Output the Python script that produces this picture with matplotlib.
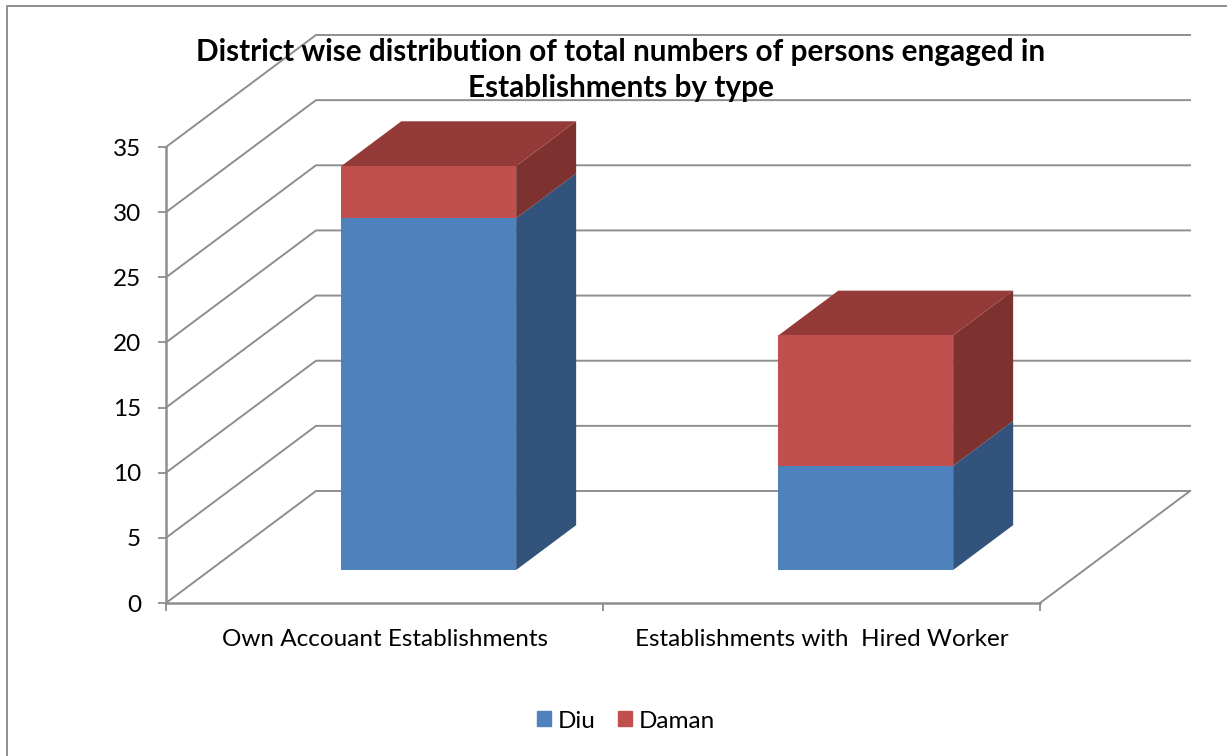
import matplotlib
matplotlib.use("Agg")
import matplotlib.pyplot as plt
from matplotlib.lines import Line2D
from matplotlib.patches import Patch

plt.rcParams['font.family'] = ['Lato', 'DejaVu Sans']

# ---- data ----
categories = ["Own Accouant Establishments", "Establishments with  Hired Worker"]
diu = [27, 8]
daman = [4, 10]
series_names = ["Diu", "Daman"]
y_ticks = [0, 5, 10, 15, 20, 25, 30, 35]
title = "District wise distribution of total numbers of persons engaged in\nEstablishments by type"

# ---- style ----
W, H = 1227, 756
GRID = "#8e8e8e"
BLUE, BLUE_SIDE = "#4f81bd", "#31537c"
RED, RED_SIDE, RED_TOP = "#c0504d", "#7e3230", "#943a38"

fig = plt.figure(figsize=(W / 100, H / 100), dpi=100, facecolor="white")
L, R, T, B = 166, 1040, 147, 603
ax = fig.add_axes([L / W, 1 - B / H, (R - L) / W, (B - T) / H])
ax.set_xlim(0, 2)
ax.set_ylim(0, 35)
ax.patch.set_visible(False)

PX = 2 / (R - L)
PY = 35 / (B - T)
DX, DY = 150 * PX, 112 * PY          # full depth of the floor, in data units


def proj(x, y, d):
    return x + d * DX, y + d * DY


# walls and gridlines
for v in y_ticks:
    x0, y0 = proj(0, v, 0)
    x1, y1 = proj(0, v, 1)
    x2, y2 = proj(2, v, 1)
    ax.plot([x0, x1, x2], [y0, y1, y2], color=GRID, lw=1.4, clip_on=False,
            zorder=1, solid_joinstyle="miter")
x0, y0 = proj(2, 0, 0)
x1, y1 = proj(2, 0, 1)
ax.plot([x0, x1], [y0, y1], color=GRID, lw=1.4, clip_on=False, zorder=1)

# 3-D stacked bars
D0, D1 = 0.295, 0.695
BAR_W = 0.40
centers = [i + 0.5 for i in range(len(categories))]
for c, a, b in zip(centers, diu, daman):
    xf, yf = proj(c, 0, D0)
    left, right = xf - BAR_W / 2, xf + BAR_W / 2
    off_x, off_y = (D1 - D0) * DX, (D1 - D0) * DY
    # side faces
    for bottom, height, col in ((0, a, BLUE_SIDE), (a, b, RED_SIDE)):
        ax.fill([right, right + off_x, right + off_x, right],
                [yf + bottom, yf + bottom + off_y, yf + bottom + height + off_y, yf + bottom + height],
                color=col, lw=0, clip_on=False, zorder=3)
    # top face
    top = yf + a + b
    ax.fill([left, right, right + off_x, left + off_x],
            [top, top, top + off_y, top + off_y],
            color=RED_TOP, lw=0, clip_on=False, zorder=3)
    # front faces
    ax.bar(xf, a, BAR_W, bottom=yf, color=BLUE, lw=0, clip_on=False, zorder=4)
    ax.bar(xf, b, BAR_W, bottom=yf + a, color=RED, lw=0, clip_on=False, zorder=4)

# axes
for s in ("top", "right"):
    ax.spines[s].set_visible(False)
for s in ("left", "bottom"):
    ax.spines[s].set_color(GRID)
    ax.spines[s].set_linewidth(1.8)
ax.set_yticks(y_ticks)
ax.set_xticks([0, 1, 2])
ax.set_xticklabels([])
ax.tick_params(axis="both", color=GRID, length=6, width=1.3, labelsize=17.5, labelcolor="black")
ax.tick_params(axis="y", pad=12)
for c, lab in zip(centers, categories):
    ax.annotate(lab, xy=(c, 0), xycoords="data", xytext=(0, -36), textcoords="offset pixels",
                ha="center", va="center", fontsize=17.5, color="black")

# title
fig.text(621 / W, 1 - 70 / H, title, ha="center", va="center", fontsize=21.4, fontweight="bold",
         color="black", linespacing=1.36, zorder=10)

# legend
handles = [Patch(color=BLUE), Patch(color=RED)]
fig.legend(handles, series_names, loc="center", bbox_to_anchor=(626 / W, 1 - 721 / H), ncol=2, frameon=False,
           fontsize=17.5, handlelength=0.58, handleheight=0.58, handletextpad=0.3, columnspacing=0.9)

# chart-area border (runs off the image to the right and bottom)
fig.add_artist(Line2D([1, 7 / W, 7 / W], [1 - 6 / H, 1 - 6 / H, 0], color=GRID, lw=1.4))

fig.savefig("out.png", dpi=100)
